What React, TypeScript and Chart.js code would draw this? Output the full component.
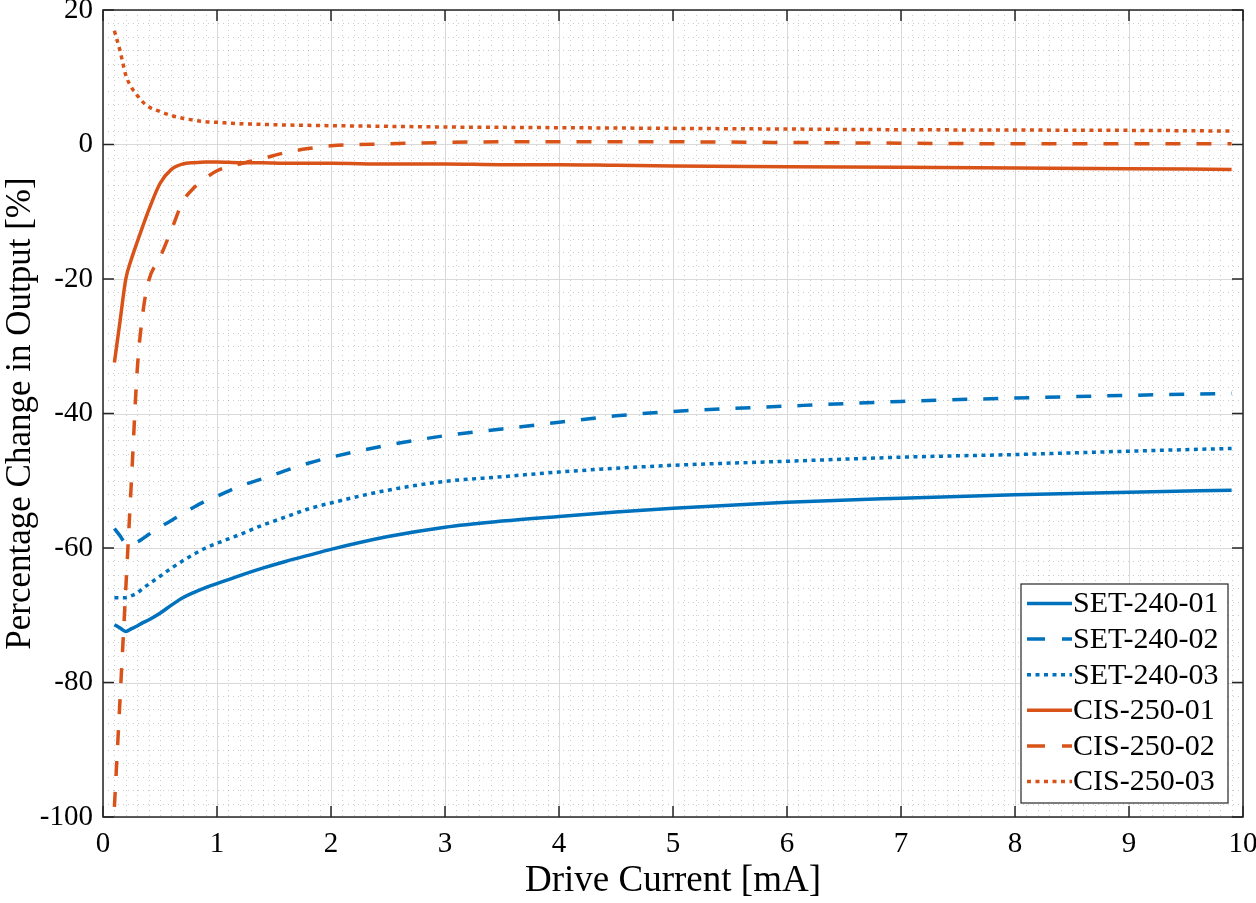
import React, { useEffect, useRef } from "react";
import { Chart, registerables } from "chart.js";

Chart.register(...registerables);

// Drive current sample points [mA]
const driveCurrent = [
  0.1, 0.15, 0.2, 0.25, 0.3, 0.35, 0.4, 0.5, 0.6, 0.7, 0.8, 0.9, 1.0, 1.2, 1.4,
  1.6, 1.8, 2.0, 2.5, 3.0, 3.5, 4.0, 4.5, 5.0, 6.0, 7.0, 8.0, 9.0, 9.9,
];

// Percentage change in output [%] per device
const set24001 = [
  -71.4, -71.9, -72.4, -72.0, -71.6, -71.1, -70.7, -69.7, -68.5, -67.4, -66.6,
  -65.9, -65.3, -64.1, -63.0, -62.0, -61.1, -60.2, -58.3, -56.9, -56.0, -55.3,
  -54.65, -54.1, -53.2, -52.6, -52.1, -51.7, -51.4,
];
const set24002 = [
  -57.1, -58.2, -59.3, -59.2, -59.1, -58.6, -58.0, -56.9, -55.9, -54.9, -53.9,
  -53.0, -52.3, -50.8, -49.7, -48.5, -47.4, -46.5, -44.7, -43.3, -42.3, -41.3,
  -40.35, -39.7, -38.9, -38.2, -37.7, -37.3, -37.0,
];
const set24003 = [
  -67.4, -67.4, -67.4, -67.1, -66.7, -66.0, -65.4, -64.2, -63.0, -61.9, -60.9,
  -60.0, -59.3, -58.0, -56.6, -55.4, -54.2, -53.3, -51.4, -50.1, -49.4, -48.7,
  -48.15, -47.7, -47.1, -46.5, -46.1, -45.6, -45.2,
];
const cis25001 = [
  -32.4, -26.2, -20.0, -17.0, -14.5, -12.1, -9.8, -5.8, -3.7, -2.9, -2.7, -2.6,
  -2.6, -2.7, -2.7, -2.8, -2.8, -2.8, -2.9, -2.9, -3.0, -3.0, -3.1, -3.2, -3.3,
  -3.4, -3.5, -3.6, -3.7,
];
const cis25002 = [
  -98.5, -82.3, -66.0, -49.8, -33.6, -25.0, -20.3, -16.8, -12.7, -8.5, -6.4,
  -5.0, -3.9, -2.9, -2.1, -1.2, -0.6, -0.2, 0.1, 0.3, 0.4, 0.4, 0.4, 0.4, 0.3,
  0.2, 0.1, 0.1, 0.1,
];
const cis25003 = [
  16.9, 13.9, 10.3, 8.5, 7.3, 6.3, 5.6, 4.9, 4.3, 3.9, 3.6, 3.4, 3.3, 3.1, 3.0,
  2.9, 2.85, 2.8, 2.7, 2.6, 2.55, 2.5, 2.45, 2.4, 2.3, 2.2, 2.15, 2.1, 2.0,
];

const seriesLabels = [
  "SET-240-01",
  "SET-240-02",
  "SET-240-03",
  "CIS-250-01",
  "CIS-250-02",
  "CIS-250-03",
];

const xTicks = [0, 1, 2, 3, 4, 5, 6, 7, 8, 9, 10];
const yTicks = [-100, -80, -60, -40, -20, 0, 20];

const BLUE = "#0072BD";
const ORANGE = "#D95319";
const AXIS = "#262626";
const FONT = "'Liberation Serif', 'Times New Roman', serif";

const SOLID: number[] = [];
const DASHED = [15, 16];
const DOTTED = [4, 4.5];

const toPoints = (ys: number[]) => driveCurrent.map((x, i) => ({ x, y: ys[i] }));

const frame = {
  id: "axesFrame",
  beforeDatasetsDraw(chart: any) {
    const { ctx, chartArea: a, scales } = chart;
    const xs = scales.x;
    const ys = scales.y;
    ctx.save();
    ctx.lineWidth = 1;
    // minor grid (dotted)
    ctx.strokeStyle = "rgba(0,0,0,0.2)";
    ctx.setLineDash([1, 4]);
    ctx.beginPath();
    for (let i = 1; i < 100; i++) {
      if (i % 10 === 0) continue;
      const px = Math.round(xs.getPixelForValue(i / 10)) + 0.5;
      ctx.moveTo(px, a.top);
      ctx.lineTo(px, a.bottom);
    }
    for (let v = -98; v < 20; v += 2) {
      if (v % 20 === 0) continue;
      const py = Math.round(ys.getPixelForValue(v)) + 0.5;
      ctx.moveTo(a.left, py);
      ctx.lineTo(a.right, py);
    }
    ctx.stroke();
    // major grid (solid)
    ctx.setLineDash([]);
    ctx.strokeStyle = "#d9d9d9";
    ctx.beginPath();
    xTicks.forEach((v) => {
      const px = Math.round(xs.getPixelForValue(v)) + 0.5;
      ctx.moveTo(px, a.top);
      ctx.lineTo(px, a.bottom);
    });
    yTicks.forEach((v) => {
      const py = Math.round(ys.getPixelForValue(v)) + 0.5;
      ctx.moveTo(a.left, py);
      ctx.lineTo(a.right, py);
    });
    ctx.stroke();
    ctx.restore();
  },
  afterDatasetsDraw(chart: any) {
    const { ctx, chartArea: a, scales } = chart;
    const xs = scales.x;
    const ys = scales.y;
    const tl = 11;
    ctx.save();
    ctx.strokeStyle = AXIS;
    ctx.lineWidth = 1.5;
    ctx.setLineDash([]);
    ctx.beginPath();
    xTicks.forEach((v) => {
      const px = xs.getPixelForValue(v);
      ctx.moveTo(px, a.bottom);
      ctx.lineTo(px, a.bottom - tl);
      ctx.moveTo(px, a.top);
      ctx.lineTo(px, a.top + tl);
    });
    yTicks.forEach((v) => {
      const py = ys.getPixelForValue(v);
      ctx.moveTo(a.left, py);
      ctx.lineTo(a.left + tl, py);
      ctx.moveTo(a.right, py);
      ctx.lineTo(a.right - tl, py);
    });
    ctx.stroke();
    ctx.strokeRect(a.left, a.top, a.right - a.left, a.bottom - a.top);

    // legend box in the lower right corner
    const bx = 1021;
    const by = 584;
    const bw = 207;
    const bh = 219;
    ctx.fillStyle = "#ffffff";
    ctx.fillRect(bx, by, bw, bh);
    ctx.lineWidth = 1.2;
    ctx.strokeStyle = AXIS;
    ctx.strokeRect(bx, by, bw, bh);
    const rowH = 35.6;
    ctx.font = `30px ${FONT}`;
    ctx.textBaseline = "middle";
    ctx.textAlign = "left";
    chart.data.datasets.forEach((ds: any, i: number) => {
      const cy = by + 19.5 + i * rowH;
      ctx.save();
      ctx.strokeStyle = ds.borderColor;
      ctx.lineWidth = 3.5;
      const dash = ds.borderDash && ds.borderDash.length ? (ds.borderDash[0] > 10 ? [18, 17] : ds.borderDash) : [];
      ctx.setLineDash(dash);
      ctx.beginPath();
      ctx.moveTo(bx + 6, cy);
      ctx.lineTo(bx + 51, cy);
      ctx.stroke();
      ctx.restore();
      ctx.fillStyle = "#000000";
      ctx.fillText(ds.label, bx + 52, cy + 1);
    });
    ctx.restore();
  },
};

export default function App() {
  const ref = useRef<HTMLCanvasElement | null>(null);

  useEffect(() => {
    if (!ref.current) return;
    const styles = [
      { color: BLUE, dash: SOLID },
      { color: BLUE, dash: DASHED },
      { color: BLUE, dash: DOTTED },
      { color: ORANGE, dash: SOLID },
      { color: ORANGE, dash: DASHED },
      { color: ORANGE, dash: DOTTED },
    ];
    const values = [set24001, set24002, set24003, cis25001, cis25002, cis25003];
    const chart = new Chart(ref.current, {
      type: "line",
      data: {
        datasets: values.map((v, i) => ({
          label: seriesLabels[i],
          data: toPoints(v),
          borderColor: styles[i].color,
          backgroundColor: styles[i].color,
          borderDash: styles[i].dash,
          borderWidth: 3.5,
          borderCapStyle: "butt",
          borderJoinStyle: "round",
          pointRadius: 0,
          cubicInterpolationMode: "monotone",
          fill: false,
        })),
      },
      options: {
        animation: false,
        responsive: false,
        layout: { padding: { top: 10, right: 13, left: 0, bottom: 0 } },
        plugins: {
          legend: { display: false },
          tooltip: { enabled: false },
        },
        scales: {
          x: {
            type: "linear",
            min: 0,
            max: 10,
            grid: { display: false, drawTicks: false },
            border: { display: false },
            afterBuildTicks: (s: any) => {
              s.ticks = xTicks.map((value) => ({ value }));
            },
            afterFit: (s: any) => {
              s.height = 86;
              s.paddingLeft = 0;
              s.paddingRight = 0;
            },
            ticks: {
              autoSkip: false,
              maxRotation: 0,
              padding: 10,
              color: "#000",
              font: { family: FONT, size: 29 },
            },
            title: {
              display: true,
              text: "Drive Current [mA]",
              color: "#000",
              font: { family: FONT, size: 37 },
              padding: { top: 0, bottom: 0 },
            },
          },
          y: {
            type: "linear",
            min: -100,
            max: 20,
            grid: { display: false, drawTicks: false },
            border: { display: false },
            afterBuildTicks: (s: any) => {
              s.ticks = yTicks.map((value) => ({ value }));
            },
            afterFit: (s: any) => {
              s.width = 103;
              s.paddingTop = 0;
              s.paddingBottom = 0;
            },
            ticks: {
              autoSkip: false,
              padding: 10,
              color: "#000",
              font: { family: FONT, size: 29 },
            },
            title: {
              display: true,
              text: "Percentage Change in Output [%]",
              color: "#000",
              font: { family: FONT, size: 35 },
              padding: { top: 0, bottom: 0 },
            },
          },
        },
      },
      plugins: [frame],
    } as any);
    return () => chart.destroy();
  }, []);

  return (
    <div style={{ position: "fixed", left: 0, top: 0, width: 1256, height: 903, background: "#fff" }}>
      <canvas ref={ref} width={1256} height={903} style={{ display: "block" }} />
    </div>
  );
}
